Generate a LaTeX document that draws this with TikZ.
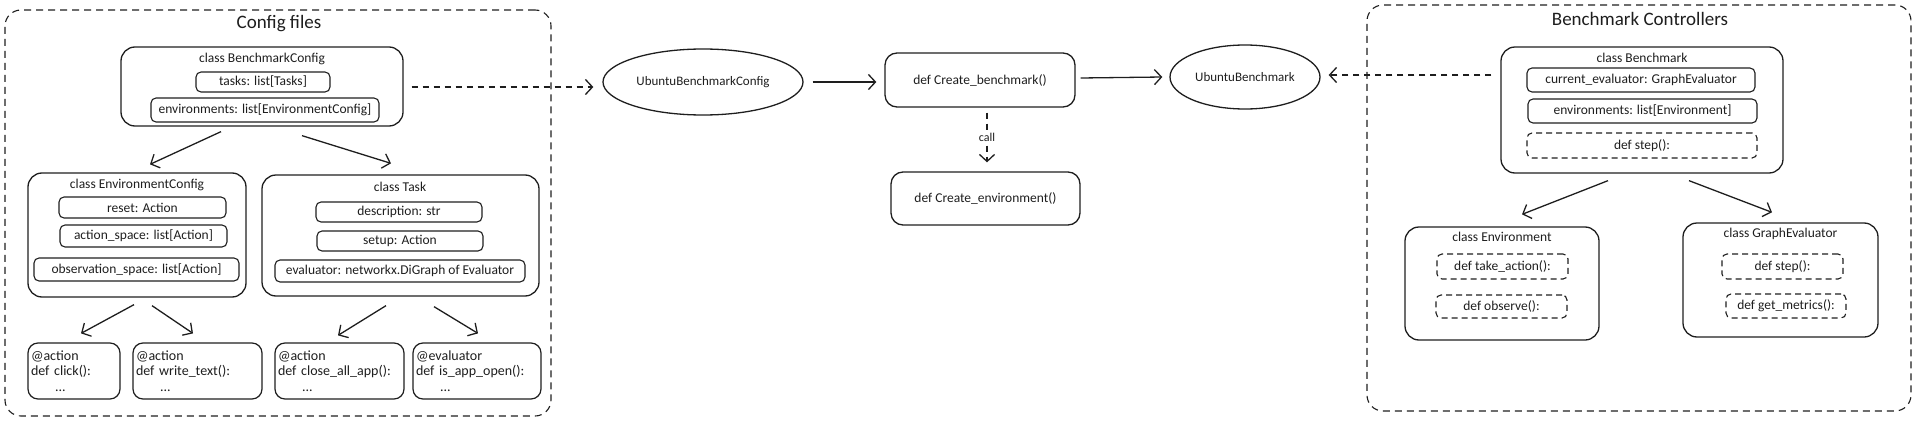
\documentclass[tikz,border=0pt]{standalone}
\usepackage{fontspec}
\setmainfont{Carlito}
\usepackage{tikz}
\usetikzlibrary{arrows.meta}
\usetikzlibrary{positioning}
\usetikzlibrary{shapes.geometric}

\definecolor{ink}{HTML}{1E1E1E}

\tikzset{
    group/.style={draw=ink, dash pattern=on 7pt off 5pt, rounded corners=16pt, line width=1.1pt, inner sep=0pt},
    grouptitle/.style={text=ink, inner sep=0pt, font=\fontsize{19}{22}\selectfont},
    classbox/.style={draw=ink, rounded corners=14pt, line width=1.3pt, inner sep=0pt},
    classtitle/.style={text=ink, inner sep=0pt, font=\fontsize{13.5}{16}\selectfont},
    field/.style={draw=ink, rounded corners=5pt, line width=1.1pt, inner sep=0pt, text=ink, font=\fontsize{13.5}{16}\selectfont},
    method/.style={field, dash pattern=on 6pt off 4pt},
    leaf/.style={draw=ink, rounded corners=10pt, line width=1.2pt, inner xsep=3pt, inner ysep=0pt,
        align=left, text=ink, font=\fontsize{14}{15.5}\selectfont},
    oval/.style={draw=ink, ellipse, line width=1.3pt, inner sep=0pt, text=ink, font=\fontsize{13}{16}\selectfont},
    func/.style={draw=ink, rounded corners=12pt, line width=1.3pt, inner sep=0pt, text=ink, font=\fontsize{13.5}{16}\selectfont},
    arr/.style={draw=ink, line width=1.3pt, -{Straight Barb[length=7pt,width=15pt]}},
    darr/.style={arr, dash pattern=on 6pt off 5pt}
}

\begin{document}
\begin{tikzpicture}[x=1pt, y=-1pt]
    \useasboundingbox (0,0) rectangle (1920,423);

    % config files
    \node[group, minimum width=546pt, minimum height=406pt] (cfgfiles) at (278,213) {};
    \node[grouptitle] (cfgtitle) at (279,24) {Config files};

    \node[classbox, minimum width=282pt, minimum height=79pt] (bcfg) at (262,86.5) {};
    \node[classtitle] (bcfgtitle) at (262,59) {class BenchmarkConfig};
    \node[field, minimum width=134pt, minimum height=20pt] (tasks) at (263,82) {tasks: list[Tasks]};
    \node[field, minimum width=228pt, minimum height=24pt] (cfgenvs) at (265,110) {environments: list[EnvironmentConfig]};

    \node[classbox, minimum width=218pt, minimum height=124pt] (envcfg) at (137,235) {};
    \node[classtitle] (envcfgtitle) at (137,185) {class EnvironmentConfig};
    \node[field, minimum width=167pt, minimum height=21pt] (reset) at (142.5,207.5) {reset: Action};
    \node[field, minimum width=167pt, minimum height=22pt] (actspace) at (143.5,236) {action\_space: list[Action]};
    \node[field, minimum width=205pt, minimum height=23pt] (obsspace) at (136.5,269.5) {observation\_space: list[Action]};

    \node[classbox, minimum width=277pt, minimum height=121pt] (task) at (400.5,235.5) {};
    \node[classtitle] (tasktitle) at (400,187) {class Task};
    \node[field, minimum width=166pt, minimum height=20pt] (descr) at (399,212) {description: str};
    \node[field, minimum width=166pt, minimum height=20pt] (setup) at (400,241) {setup: Action};
    \node[field, minimum width=250pt, minimum height=22pt] (evaluator) at (400,271) {evaluator: networkx.DiGraph of Evaluator};

    \node[leaf, text width=86pt, minimum height=56pt] (click) at (74,371) {@action\\def click():\\\hspace*{24pt}...};
    \node[leaf, text width=123pt, minimum height=56pt] (writetext) at (197.5,371) {@action\\def write\_text():\\\hspace*{24pt}...};
    \node[leaf, text width=123pt, minimum height=56pt] (closeall) at (339.5,371) {@action\\def close\_all\_app():\\\hspace*{24pt}...};
    \node[leaf, text width=122pt, minimum height=56pt] (isopen) at (477,371) {@evaluator\\def is\_app\_open():\\\hspace*{24pt}...};

    \draw[arr] ([xshift=-41pt,yshift=-5pt]bcfg.south) -- ([xshift=13pt,yshift=8pt]envcfg.north);
    \draw[arr] ([xshift=40pt,yshift=-9pt]bcfg.south) -- ([xshift=-9.5pt,yshift=11pt]task.north);
    \draw[arr] ([xshift=-3pt,yshift=-7pt]envcfg.south) -- ([xshift=7pt,yshift=9pt]click.north);
    \draw[arr] ([xshift=15pt,yshift=-8pt]envcfg.south) -- ([xshift=-4.5pt,yshift=9pt]writetext.north);
    \draw[arr] ([xshift=-14.5pt,yshift=-9pt]task.south) -- ([xshift=-1.5pt,yshift=7pt]closeall.north);
    \draw[arr] ([xshift=33.5pt,yshift=-10pt]task.south) -- ([xshift=1pt,yshift=9pt]isopen.north);

    % middle
    \node[oval, minimum width=200pt, minimum height=66pt] (ucfg) at (703,82) {UbuntuBenchmarkConfig};
    \node[func, minimum width=190pt, minimum height=54pt] (createbm) at (980,80) {def Create\_benchmark()};
    \node[oval, minimum width=150pt, minimum height=64pt] (ubm) at (1245,77) {UbuntuBenchmark};
    \node[func, minimum width=189pt, minimum height=53pt] (createenv) at (985.5,198.5) {def Create\_environment()};

    \draw[darr] ([xshift=8pt,yshift=-0.5pt]bcfg.east) -- ([xshift=-9pt,yshift=-5pt]ucfg.west);
    \draw[arr] ([xshift=9pt]ucfg.east) -- ([xshift=-8pt,yshift=-2pt]createbm.west);
    \draw[arr] ([xshift=5pt,yshift=2pt]createbm.east) -- ([xshift=-7pt]ubm.west);
    \draw[darr] ([xshift=7pt,yshift=-5pt]createbm.south) -- node[fill=white, inner sep=1pt, text=ink, font=\fontsize{12}{14}\selectfont] {call} ([xshift=1.5pt,yshift=9pt]createenv.north);

    % benchmark controllers
    \node[group, minimum width=544pt, minimum height=406pt] (controllers) at (1639,208) {};
    \node[grouptitle] (ctrltitle) at (1640,19) {Benchmark Controllers};

    \node[classbox, minimum width=282pt, minimum height=126pt] (bench) at (1642,110) {};
    \node[classtitle] (benchtitle) at (1642,58) {class Benchmark};
    \node[field, minimum width=228pt, minimum height=24pt] (curreval) at (1641,80) {current\_evaluator: GraphEvaluator};
    \node[field, minimum width=229pt, minimum height=24pt] (benvs) at (1642.5,111) {environments: list[Environment]};
    \node[method, minimum width=230pt, minimum height=25pt] (bstep) at (1642,145.5) {def step():};

    \node[classbox, minimum width=194pt, minimum height=113pt] (env) at (1502,283.5) {};
    \node[classtitle] (envtitle) at (1502,237) {class Environment};
    \node[method, minimum width=131pt, minimum height=25pt] (takeaction) at (1502.5,266.5) {def take\_action():};
    \node[method, minimum width=131pt, minimum height=23pt] (observe) at (1501.5,306.5) {def observe():};

    \node[classbox, minimum width=195pt, minimum height=114pt] (graph) at (1780.5,280) {};
    \node[classtitle] (graphtitle) at (1780.5,234) {class GraphEvaluator};
    \node[method, minimum width=121pt, minimum height=25pt] (gstep) at (1782.5,266.5) {def step():};
    \node[method, minimum width=120pt, minimum height=24pt] (getmetrics) at (1786,306) {def get\_metrics():};

    \draw[darr] ([xshift=-9pt,yshift=35pt]bench.west) -- ([xshift=8pt,yshift=2pt]ubm.east);
    \draw[arr] ([xshift=-34pt,yshift=-7pt]bench.south) -- ([xshift=20pt,yshift=12pt]env.north);
    \draw[arr] ([xshift=47pt,yshift=-7pt]bench.south) -- ([xshift=-8.5pt,yshift=10pt]graph.north);
\end{tikzpicture}
\end{document}
